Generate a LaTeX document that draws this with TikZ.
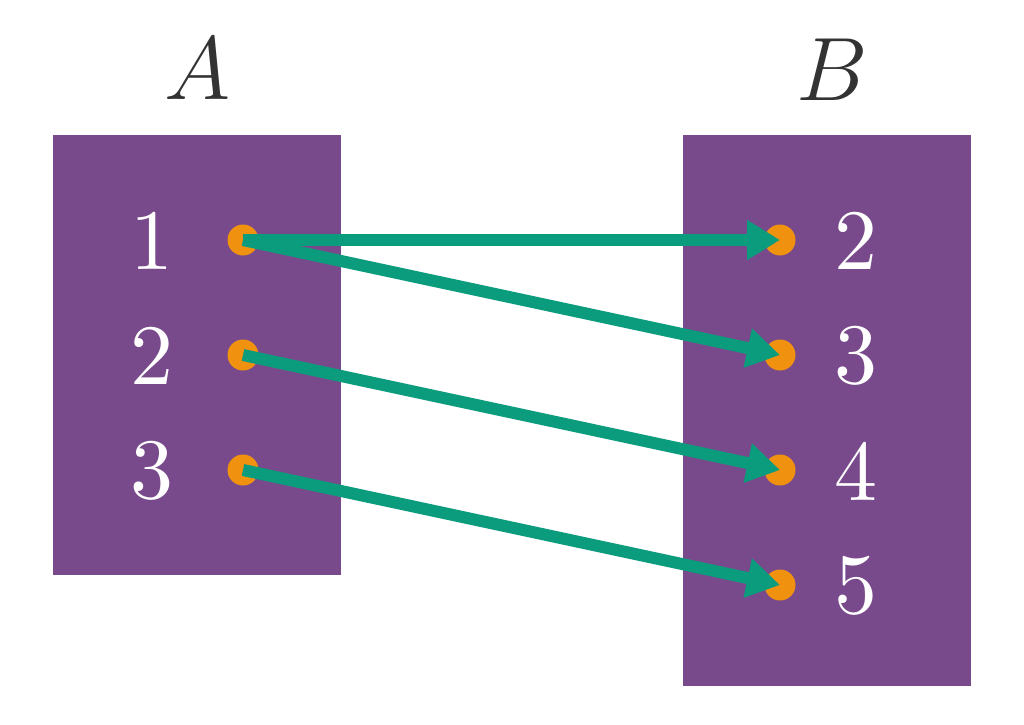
\documentclass[tikz,border=0pt]{standalone}
\usepackage{fix-cm}
\usepackage{fontspec}
\newfontfamily\digitfont{lmroman10-regular.otf}
\usetikzlibrary{arrows.meta}
\definecolor{boxpurple}{HTML}{784A8B}
\definecolor{dotorange}{HTML}{F0910F}
\definecolor{arrowgreen}{HTML}{0B9B7D}
\definecolor{labelgray}{HTML}{333333}
\tikzset{
  setbox/.style={fill=boxpurple, draw=none},
  elem/.style={text=white, font=\digitfont\fontsize{43}{50}\selectfont, inner sep=0pt, anchor=center},
  setname/.style={text=labelgray, font=\fontsize{45}{52}\selectfont, inner sep=0pt, anchor=center},
  dot/.style={circle, fill=dotorange, draw=none, minimum size=15.5pt, inner sep=0pt},
  maparrow/.style={draw=arrowgreen, line width=6pt, -{Triangle[length=16.5pt,width=19pt]}, shorten >=0pt}
}
\begin{document}
\begin{tikzpicture}[x=0.5pt,y=-0.5pt]
\useasboundingbox (0,0) rectangle (1024,724);
% set boxes
\path[setbox] (53,135) rectangle (341,575);
\path[setbox] (683,135) rectangle (971,686);
% set names
\node[setname] (nameA) at (198,69) {$A$};
\node[setname] (nameB) at (832,70) {$B$};
% elements of A
\node[elem] (la1) at (152,241) {1};
\node[elem] (la2) at (152,356) {2};
\node[elem] (la3) at (152,471) {3};
% elements of B
\node[elem] (lb2) at (856,241) {2};
\node[elem] (lb3) at (856,356) {3};
\node[elem] (lb4) at (856,471) {4};
\node[elem] (lb5) at (856,586) {5};
% dots
\node[dot] (a1) at (243,240) {};
\node[dot] (a2) at (243,355) {};
\node[dot] (a3) at (243,470) {};
\node[dot] (b2) at (780,240) {};
\node[dot] (b3) at (780,355) {};
\node[dot] (b4) at (780,470) {};
\node[dot] (b5) at (780,585) {};
% arrows
\draw[maparrow] (a1.center) -- (b2.center);
\draw[maparrow] (a1.center) -- (b3.center);
\draw[maparrow] (a2.center) -- (b4.center);
\draw[maparrow] (a3.center) -- (b5.center);
\end{tikzpicture}
\end{document}
